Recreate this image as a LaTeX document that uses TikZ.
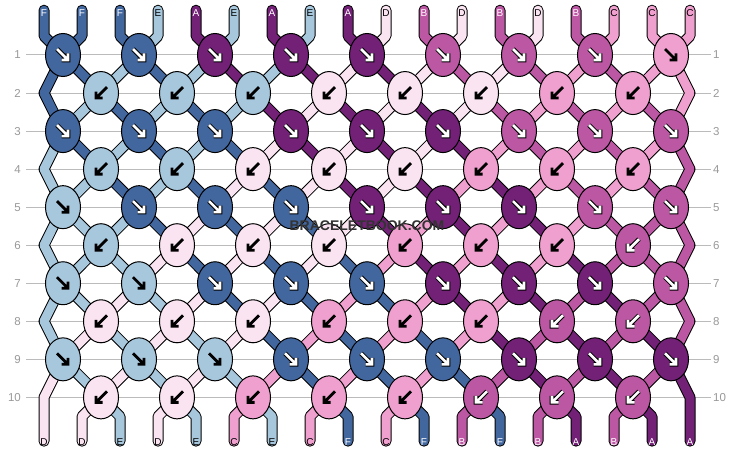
\documentclass[tikz,border=0pt]{standalone}
\usepackage{fontspec}
\setmainfont{Liberation Sans}
\usetikzlibrary{shapes.geometric}
\definecolor{colF}{HTML}{42669E}
\definecolor{colE}{HTML}{A7C7DD}
\definecolor{colA}{HTML}{732077}
\definecolor{colD}{HTML}{FAE4F1}
\definecolor{colB}{HTML}{BC57A3}
\definecolor{colC}{HTML}{F0A0CE}
\definecolor{rowgray}{HTML}{BBBBBB}
\definecolor{numgray}{HTML}{999999}
\definecolor{wmgray}{HTML}{333333}
\tikzset{
  txtF/.style={text=white}, txtA/.style={text=white}, txtB/.style={text=white},
  txtE/.style={text=black}, txtD/.style={text=black}, txtC/.style={text=black},
  arrbgF/.style={draw=black,line width=4.6pt}, arrbgA/.style={draw=black,line width=4.6pt}, arrbgB/.style={draw=black,line width=4.6pt},
  arrbgE/.style={}, arrbgD/.style={}, arrbgC/.style={},
  arrfgF/.style={draw=white,line width=2.6pt}, arrfgA/.style={draw=white,line width=2.6pt}, arrfgB/.style={draw=white,line width=2.6pt},
  arrfgE/.style={draw=black,line width=2.8pt}, arrfgD/.style={draw=black,line width=2.8pt}, arrfgC/.style={draw=black,line width=2.8pt},
  knot/.style={ellipse, draw=black, line width=1pt, minimum width=35pt, minimum height=43pt, inner sep=0pt},
  lab/.style={font=\fontsize{10}{10}\selectfont, anchor=base, inner sep=0pt},
  rownum/.style={font=\fontsize{11.5}{12}\selectfont, text=numgray, inner sep=0pt},
  wm/.style={font=\bfseries\fontsize{14}{14}\selectfont, inner sep=0pt}
}
\begin{document}
\begin{tikzpicture}[x=1pt,y=-1pt]
\useasboundingbox[fill=white] (0,0) rectangle (734,452);
% row lines and numbers
\foreach \r in {1,...,10}{
  \pgfmathsetmacro\yr{55+38.04*(\r-1)}
  \draw[rowgray, line width=1pt] (26,\yr) -- (710.5,\yr);
  \node[rownum, anchor=east] (ln\r) at (21,\yr) {\r};
  \node[rownum, anchor=west] (rn\r) at (713,\yr) {\r};
}
% strings
\foreach \s/\c in {1/F,2/F,3/F,4/E,5/A,6/E,7/A,8/E,9/A,10/D,11/B,12/D,13/B,14/D,15/B,16/C,17/C,18/C}{
  \pgfmathsetmacro\xs{44+38*(\s-1)}
  \xdef\strpath{(\xs,10.2) -- (\xs,36)}
  \xdef\curp{\s}
  \foreach \r in {1,...,10}{
    \pgfmathsetmacro\yr{55+38.04*(\r-1)}
    \pgfmathsetmacro\xp{44+38*(\curp-1)}
    \ifodd\r\relax
      \ifodd\curp\relax
        \pgfmathsetmacro\kx{\xp+19}\pgfmathtruncatemacro\np{\curp+1}%
      \else
        \pgfmathsetmacro\kx{\xp-19}\pgfmathtruncatemacro\np{\curp-1}%
      \fi
    \else
      \ifnum\curp=1\relax \let\kx\xp \edef\np{\curp}%
      \else\ifnum\curp=18\relax \let\kx\xp \edef\np{\curp}%
      \else\ifodd\curp\relax
        \pgfmathsetmacro\kx{\xp-19}\pgfmathtruncatemacro\np{\curp-1}%
      \else
        \pgfmathsetmacro\kx{\xp+19}\pgfmathtruncatemacro\np{\curp+1}%
      \fi\fi\fi
    \fi
    \xdef\strpath{\strpath -- (\kx,\yr)}
    \xdef\curp{\np}
  }
  \pgfmathsetmacro\xb{44+38*(\curp-1)}
  \xdef\strpath{\strpath -- (\xb,416.4) -- (\xb,441.2)}
  \draw[line width=11pt, line join=round, line cap=round] \strpath;
  \draw[col\c, line width=9pt, line join=round, line cap=round] \strpath;
  \node[lab, txt\c] (top\s) at (\xs,16.7) {\c};
  \node[lab, txt\c] (bot\s) at (\xb,445) {\c};
}
% knots
\foreach \r/\lst in {1/{F,F,A,A,A,B,B,B,C}, 2/{E,E,E,D,D,D,C,C}, 3/{F,F,F,A,A,A,B,B,B}, 4/{E,E,D,D,D,C,C,C}, 5/{E,F,F,F,A,A,A,B,B}, 6/{E,D,D,D,C,C,C,B}, 7/{E,E,F,F,F,A,A,A,B}, 8/{D,D,D,C,C,C,B,B}, 9/{E,E,E,F,F,F,A,A,A}, 10/{D,D,C,C,C,B,B,B}}{
  \pgfmathsetmacro\yr{55+38.04*(\r-1)}
  \foreach \c [count=\k] in \lst {
    \ifodd\r\relax
      \pgfmathsetmacro\kx{63+76*(\k-1)}\def\sg{1}%
    \else
      \pgfmathsetmacro\kx{101+76*(\k-1)}\def\sg{-1}%
    \fi
    \node[knot, fill=col\c] (k\r-\k) at (\kx,\yr) {};
    \begin{scope}[shift={(\kx,\yr)}, xscale=\sg]
      \path[arrbg\c, line join=miter] (-6,-6) -- (5,5) (-1.5,5) -- (5,5) -- (5,-1.5);
      \path[arrfg\c, line join=miter] (-6,-6) -- (5,5) (-1.5,5) -- (5,5) -- (5,-1.5);
    \end{scope}
  }
}
% watermark
\node[wm, text=wmgray] (wmark) at (367,225.5) {BRACELETBOOK.COM};
\end{tikzpicture}
\end{document}
